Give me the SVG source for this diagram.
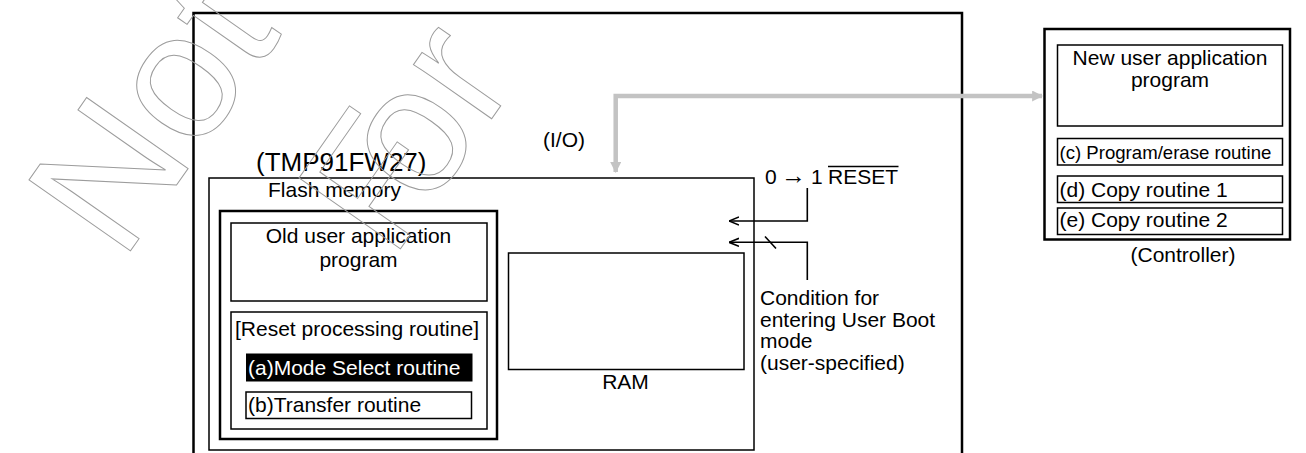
<svg xmlns="http://www.w3.org/2000/svg" width="1306" height="453" viewBox="0 0 1306 453">
<style>
.box{fill:none;stroke:#000;stroke-width:1.5}
.thick{fill:none;stroke:#000;stroke-width:2.5}
.t{font-family:"Liberation Sans",Arial,Helvetica,sans-serif;font-size:21px;fill:#000}
.wm{font-family:"Liberation Sans",Arial,sans-serif;font-size:180px;fill:none;stroke:#9c9c9c;stroke-width:1}
.wire{fill:none;stroke:#000;stroke-width:1.6}
.io{fill:none;stroke:#c3c3c3;stroke-width:4.5}
</style>
<defs>
<marker id="open" viewBox="0 0 10 10" refX="10" refY="5" markerWidth="10" markerHeight="10" markerUnits="userSpaceOnUse" orient="auto">
<path d="M0,1 L10,5 L0,9" fill="none" stroke="#000" stroke-width="1.6"/>
</marker>
<marker id="gray" viewBox="0 0 10 10" refX="9" refY="5" markerWidth="11" markerHeight="11" markerUnits="userSpaceOnUse" orient="auto-start-reverse">
<path d="M0,0 L10,5 L0,10 Z" fill="#c3c3c3"/>
</marker>
</defs>
<rect width="1306" height="453" fill="#fff"/>

<g id="tmp-chip">
<rect class="thick" x="193.5" y="13" width="768.5" height="460"/>
<text class="t" x="256" y="171" style="font-size:26px">(TMP91FW27)</text>
</g>

<g id="flash-memory">
<rect class="box" x="209" y="178" width="545" height="272"/>
<text class="t" x="268" y="197">Flash memory</text>
<rect class="thick" x="220" y="211" width="277" height="228"/>
</g>

<g id="old-user-app">
<rect class="box" x="231" y="223" width="256" height="78"/>
<text class="t" x="358.5" y="243" text-anchor="middle">Old user application</text>
<text class="t" x="358.5" y="267" text-anchor="middle">program</text>
</g>

<g id="reset-processing">
<rect class="box" x="231" y="312" width="256" height="117"/>
<text class="t" x="357" y="336" text-anchor="middle">[Reset processing routine]</text>
</g>

<g id="mode-select">
<rect x="246" y="353.5" width="226.5" height="28" fill="#000"/>
<text class="t" x="248" y="375" style="fill:#fff">(a)Mode Select routine</text>
</g>

<g id="transfer">
<rect class="box" x="246" y="392" width="225.5" height="26.5"/>
<text class="t" x="248" y="412">(b)Transfer routine</text>
</g>

<g id="ram">
<rect class="box" x="508.5" y="253" width="235.5" height="116.5"/>
<text class="t" x="625.5" y="389" text-anchor="middle">RAM</text>
</g>

<g id="reset-label">
<text class="t" y="184"><tspan x="765">0</tspan><tspan x="781" style="font-size:25px">→</tspan><tspan x="811">1</tspan><tspan x="828">RESET</tspan></text>
<line x1="828" y1="166.5" x2="898.5" y2="166.5" stroke="#000" stroke-width="1.3"/>
</g>

<g id="condition-label">
<text class="t" x="760" y="305">Condition for</text>
<text class="t" x="760" y="326.5">entering User Boot</text>
<text class="t" x="760" y="348">mode</text>
<text class="t" x="760" y="369.5">(user-specified)</text>
</g>

<g id="io-label">
<text class="t" x="543" y="147">(I/O)</text>
</g>

<g id="controller">
<rect class="thick" x="1044.5" y="29" width="245.5" height="210.5"/>
<rect class="box" x="1057.5" y="45" width="225" height="81"/>
<text class="t" x="1170" y="65" text-anchor="middle">New user application</text>
<text class="t" x="1170" y="87" text-anchor="middle">program</text>
<rect class="box" x="1057.5" y="138.5" width="225" height="26.5"/>
<text class="t" x="1059.5" y="158.5" style="font-size:18.6px">(c) Program/erase routine</text>
<rect class="box" x="1057.5" y="176" width="225" height="26.5"/>
<text class="t" x="1059.5" y="196.5">(d) Copy routine 1</text>
<rect class="box" x="1057.5" y="208" width="225" height="26.5"/>
<text class="t" x="1059.5" y="226.5">(e) Copy routine 2</text>
<text class="t" x="1183" y="262" text-anchor="middle">(Controller)</text>
</g>

<g id="connectors">
<path class="io" d="M615.7,172 V96 H1042" marker-start="url(#gray)" marker-end="url(#gray)"/>
<path class="wire" d="M807.3,188 V221 H729" marker-end="url(#open)"/>
<path class="wire" d="M807.3,280 V242.3 H729" marker-end="url(#open)"/>
<line x1="765" y1="236.5" x2="776" y2="248.5" stroke="#000" stroke-width="1.6"/>
</g>

<g id="watermark">
<text class="wm" transform="translate(122,263) rotate(-55)">Not</text>
<text class="wm" transform="translate(392,261) rotate(-55)">F<tspan dx="-49">or</tspan></text>
</g>
</svg>
